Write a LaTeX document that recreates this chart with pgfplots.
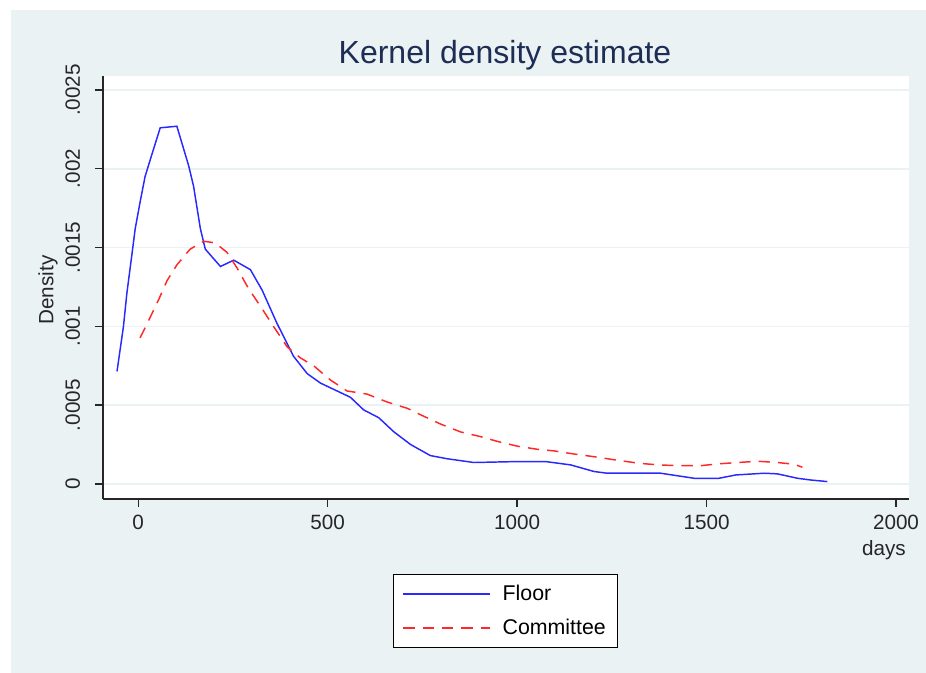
\documentclass[border=0pt]{standalone}
\usepackage{fontspec}
\setmainfont{Liberation Sans}
\usepackage{pgfplots}
\pgfplotsset{compat=1.18}
\definecolor{bgcol}{RGB}{234,242,243}
\definecolor{gridcol}{RGB}{234,242,243}
\definecolor{titlecol}{RGB}{30,45,85}
\definecolor{floorcol}{RGB}{40,40,255}
\definecolor{commcol}{RGB}{255,40,40}
\begin{document}
\begin{tikzpicture}
% page and background (1px = 0.75pt, origin at plot-box lower left = px (103,499))
\fill[white] (-77.25pt,-130.5pt) rectangle (617.25pt,374.25pt);
\fill[bgcol] (-69pt,-130.5pt) rectangle (617.25pt,366.75pt);
\begin{axis}[
  at={(0pt,0pt)}, anchor=south west,
  scale only axis,
  width=604.7pt, height=317.5pt,
  xmin=-93, xmax=2035,
  ymin=-0.0000955, ymax=0.002591,
  axis background/.style={fill=white},
  axis x line*=bottom, axis y line*=left,
  axis line style={-, black!85, line width=1pt},
  tick align=outside, major tick length=6pt,
  tick style={black!85, line width=1pt},
  xtick={0,500,1000,1500,2000},
  xticklabels={0,500,1000,1500,2000},
  ytick={0,0.0005,0.001,0.0015,0.002,0.0025},
  yticklabels={0,.0005,.001,.0015,.002,.0025},
  scaled y ticks=false, scaled x ticks=false,
  /pgf/number format/assume math mode=true,
  ticklabel style={font=\fontsize{15.5pt}{18pt}\selectfont, text=black!85},
  yticklabel style={rotate=90, anchor=south, inner xsep=2pt, inner ysep=11pt},
  xticklabel style={inner sep=6pt},
  ymajorgrids, major grid style={gridcol, line width=1.2pt},
  legend style={at={(axis description cs:0.4992,-0.177)}, anchor=north,
    draw=black, line width=0.8pt, fill=white,
    font=\fontsize{16pt}{19pt}\selectfont,
    inner xsep=7pt, inner ysep=6pt, row sep=8.5pt,
    nodes={inner sep=2pt}},
  legend cell align=left,
  legend image code/.code={\draw[#1] (0pt,0pt) -- (65pt,0pt); \path (72pt,0pt);},
]
\addplot[floorcol, line width=1.1pt] coordinates {
(-56,0.000714) (-39,0.00100) (-30,0.00121) (-17,0.00145) (-8,0.00162) (5,0.00179) (18,0.00195) (32,0.00206) (58,0.00226) (102,0.00227) (133,0.00202) (146,0.00189) (164,0.00162) (177,0.00149) (217,0.00138) (252,0.00142) (296,0.00136) (327,0.00123) (366,0.00102) (410,0.00081) (446,0.00070) (481,0.00064) (516,0.00060) (560,0.00055) (595,0.00047) (635,0.00042) (675,0.00033) (719,0.00025) (771,0.00018) (815,0.00016) (886,0.000136) (1000,0.000142) (1075,0.000142) (1141,0.000121) (1203,0.000079) (1238,0.000068) (1379,0.000068) (1467,0.000036) (1533,0.000036) (1577,0.000057) (1652,0.000068) (1687,0.000064) (1740,0.000036) (1775,0.000025) (1819,0.000015)
};
\addlegendentry{Floor}
\addplot[commcol, line width=1.1pt, dash pattern=on 8.5pt off 6pt] coordinates {
(5,0.000927) (32,0.00106) (54,0.00117) (76,0.00129) (102,0.00139) (137,0.00149) (173,0.00154) (203,0.00153) (234,0.00147) (261,0.00137) (291,0.00124) (322,0.00113) (357,0.00100) (393,0.00087) (428,0.00080) (463,0.00075) (507,0.00066) (551,0.00059) (604,0.00057) (657,0.00052) (710,0.00048) (753,0.00043) (798,0.00038) (851,0.00033) (904,0.00030) (948,0.00027) (1000,0.00024) (1053,0.00022) (1097,0.00021) (1150,0.00019) (1212,0.00017) (1265,0.00015) (1326,0.00013) (1379,0.00012) (1432,0.000116) (1485,0.000116) (1529,0.000127) (1582,0.000136) (1635,0.000144) (1687,0.000136) (1731,0.000125) (1753,0.000106)
};
\addlegendentry{Committee}
\end{axis}
\node[text=titlecol, font=\fontsize{24pt}{28pt}\selectfont] at (301.5pt,332.5pt) {Kernel density estimate};
\node[rotate=90, text=black!85, font=\fontsize{15.5pt}{18pt}\selectfont] at (-41.25pt,156.75pt) {Density};
\node[text=black!85, font=\fontsize{15.5pt}{18pt}\selectfont] at (585.75pt,-38pt) {days};
\pgfresetboundingbox
\path[use as bounding box] (-77.25pt,-130.5pt) rectangle (617.25pt,374.25pt);
\end{tikzpicture}
\end{document}
